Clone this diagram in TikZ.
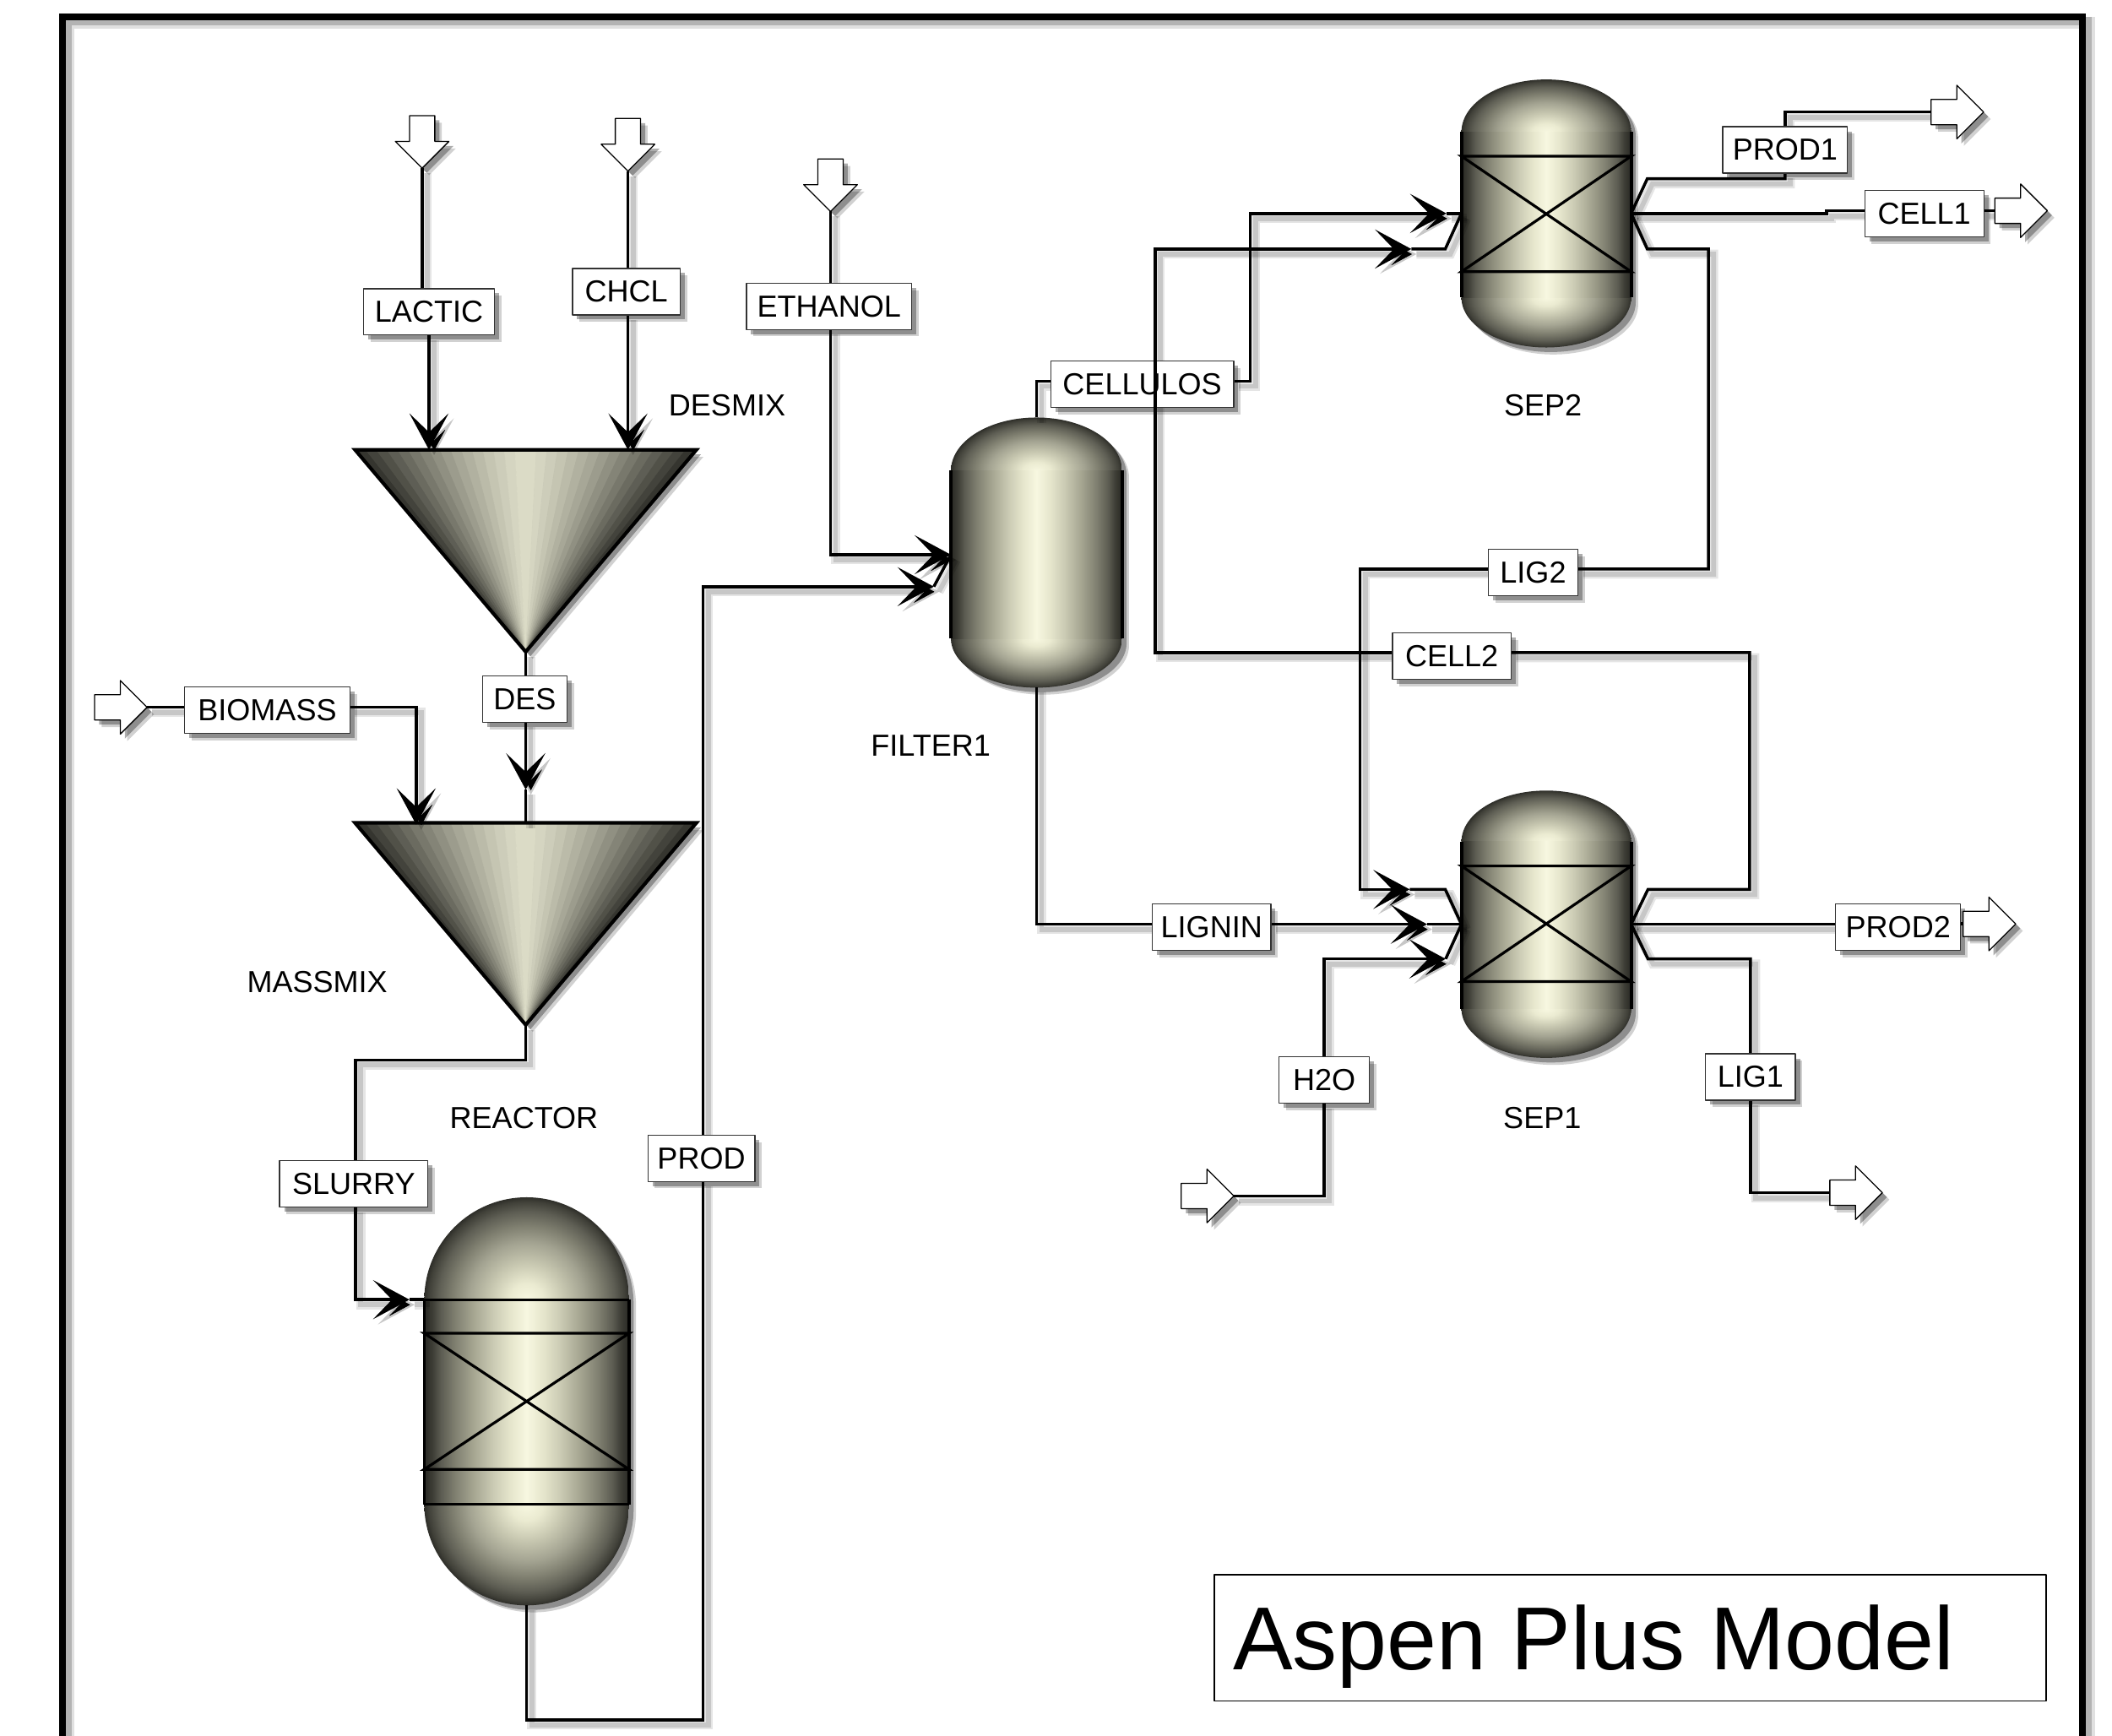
\documentclass[tikz,border=0pt]{standalone}
\usepackage{fontspec}
\setmainfont{Liberation Sans}
\usetikzlibrary{arrows.meta,shapes.arrows}
\pgfdeclarelayer{background}
\pgfsetlayers{background,main}
\definecolor{mixlight}{HTML}{DDDDC8}
\definecolor{mixdark}{HTML}{2E2E29}
\pgfdeclarehorizontalshading{vesselbody}{100bp}{
	rgb(0bp)=(.16,.16,.14); rgb(25bp)=(.16,.16,.14); rgb(27bp)=(.24,.24,.21); rgb(29bp)=(.36,.36,.32); rgb(32.5bp)=(.50,.50,.44);
	rgb(37bp)=(.65,.65,.57); rgb(42bp)=(.80,.80,.71); rgb(46bp)=(.90,.90,.80); rgb(50bp)=(.97,.97,.88);
	rgb(54bp)=(.90,.90,.80); rgb(58bp)=(.80,.80,.71); rgb(63bp)=(.65,.65,.57); rgb(67.5bp)=(.50,.50,.44);
	rgb(71bp)=(.36,.36,.32); rgb(73bp)=(.24,.24,.21); rgb(75bp)=(.16,.16,.14); rgb(100bp)=(.16,.16,.14)}
\pgfdeclareradialshading{vesselhead}{\pgfpoint{0bp}{0bp}}{
	rgb(0bp)=(.97,.97,.88); rgb(4bp)=(.92,.92,.82); rgb(9bp)=(.78,.78,.69); rgb(14bp)=(.64,.64,.57);
	rgb(18bp)=(.50,.50,.44); rgb(21.5bp)=(.37,.37,.33); rgb(24bp)=(.25,.25,.22); rgb(25bp)=(.18,.18,.16); rgb(50bp)=(.18,.18,.16)}
\begin{document}
\begin{tikzpicture}[x=0.5pt,y=-0.5pt,font=\fontsize{11.3}{13}\selectfont,line join=round,line cap=round,>={Stealth[length=13.5pt,width=14.5pt,inset=7pt]},
	softfill/.style={preaction={fill=black,fill opacity=.18,transform canvas={shift={(2.6pt,-2.6pt)}}},preaction={fill=black,fill opacity=.32,transform canvas={shift={(1.7pt,-1.7pt)}}}},
	softline/.style={preaction={draw=black,draw opacity=.1,line width=3.4pt,transform canvas={shift={(1.9pt,-1.9pt)}}},preaction={draw=black,draw opacity=.13,line width=1.8pt,transform canvas={shift={(1.9pt,-1.9pt)}}}},
	stream/.style={softline,line width=1.1pt},
	band/.style={line width=1pt},
	wall/.style={line width=1.2pt},
	unitspace/.style={inner sep=0,outer sep=0},
	unitname/.style={inner sep=0,outer sep=0},
	tag/.style={softfill,draw=black!80,line width=.4pt,fill=white,inner sep=0,outer sep=0,minimum height=17.2pt},
	port/.style={softfill,single arrow,draw=black,line width=.4pt,fill=white,inner xsep=0,inner ysep=4.5pt,outer sep=0,anchor=tail,minimum height=19.5pt,single arrow head extend=5.25pt},
	portdown/.style={port,inner xsep=4.5pt,inner ysep=0,shape border rotate=270}]
	\useasboundingbox (0,0) rectangle (1568,1289);
	\def\vessel#1#2#3#4#5#6#7{% name, centre, top, wall top, wall bottom, bottom, half width
		\node[unitspace,minimum width={#7*1pt},minimum height={(#6-#3)*.5pt}] (#1) at (#2,{(#3+#6)/2}) {};
		\path[softfill] ({#2-#7},#4) arc[start angle=180,end angle=360,x radius=#7,y radius={#4-#3}] -- ({#2+#7},#5) arc[start angle=0,end angle=180,x radius=#7,y radius={#6-#5}] -- cycle;
		\begin{scope}
			\clip ({#2-#7},#3) rectangle ({#2+#7},#4);
			\shade[shading=vesselhead] (#2,#4) ellipse [x radius=#7,y radius={#4-#3}];
		\end{scope}
		\begin{scope}
			\clip ({#2-#7},#5) rectangle ({#2+#7},#6);
			\shade[shading=vesselhead] (#2,#5) ellipse [x radius=#7,y radius={#6-#5}];
		\end{scope}
		\shade[shading=vesselbody] ({#2-#7},#4) rectangle ({#2+#7},#5);
		\draw[wall] ({#2-#7},#4) -- ({#2-#7},#5);
		\draw[wall] ({#2+#7},#4) -- ({#2+#7},#5);
	}
	\def\mixer#1#2#3#4#5{% name, centre, top, apex, half width
		\node[unitspace,minimum width={#5*1pt},minimum height={(#4-#3)*.5pt}] (#1) at (#2,{(#3+#4)/2}) {};
		\path[softfill] ({#2-#5},#3) -- ({#2+#5},#3) -- (#2,#4) -- cycle;
		\foreach \i in {0,...,31}{
			\pgfmathsetmacro\mixval{100*(1-abs((\i+.5)/16-1)^1.3)}
			\fill[mixlight!\mixval!mixdark,draw=mixlight!\mixval!mixdark,line width=.2pt] ({#2+#5*(\i/16-1)},#3) -- ({#2+#5*((\i+1)/16-1)},#3) -- (#2,#4) -- cycle;
		}
		\draw[line width=1.3pt] ({#2-#5},#3) -- ({#2+#5},#3) -- (#2,#4) -- cycle;
	}
	\def\packing#1#2#3{\draw[band] (#1.west |- 0,#2) -- (#1.east |- 0,#2) -- (#1.west |- 0,#3) -- (#1.east |- 0,#3) -- cycle;}

	\node[draw,line width=.6pt,inner sep=0,minimum width=308.6pt,minimum height=46.75pt] (titlebox) at (1210.2,1216.2) {};
	\node[anchor=base west,inner sep=0,font=\fontsize{33.2}{38}\selectfont] (titletext) at (915,1240) {Aspen Plus Model};

	\node[tag,minimum width=48.5pt] (lactic) at (318.5,231.6) {LACTIC};
	\node[tag,minimum width=40pt] (chcl) at (465,216.6) {CHCL};
	\node[tag,minimum width=61.25pt] (ethanol) at (615.5,227.4) {ETHANOL};
	\node[tag,minimum width=31.25pt] (des) at (389.6,519) {DES};
	\node[tag,minimum width=61.35pt] (biomass) at (198.4,527.3) {BIOMASS};
	\node[tag,minimum width=55pt] (slurry) at (262.6,879) {SLURRY};
	\node[tag,minimum width=39.75pt] (prod) at (520.7,860) {PROD};
	\node[tag,minimum width=67.9pt] (cellulos) at (848,285.2) {CELLULOS};
	\node[tag,minimum width=46.35pt] (prod1) at (1325.3,111.3) {PROD1};
	\node[tag,minimum width=44.2pt] (cell1) at (1428.6,158.7) {CELL1};
	\node[tag,minimum width=33.2pt] (lig2) at (1138.2,425) {LIG2};
	\node[tag,minimum width=44pt] (cell2) at (1077.8,487) {CELL2};
	\node[tag,minimum width=44pt] (lignin) at (899.5,688.5) {LIGNIN};
	\node[tag,minimum width=33.4pt] (h2o) at (983.1,802) {H2O};
	\node[tag,minimum width=33.35pt] (lig1) at (1299.6,799.7) {LIG1};
	\node[tag,minimum width=46.35pt] (prod2) at (1409.2,688.3) {PROD2};

	\node[unitname] (desmixname) at (539.8,301) {DESMIX};
	\node[unitname] (massmixname) at (235.5,729) {MASSMIX};
	\node[unitname] (reactorname) at (389,830) {REACTOR};
	\node[unitname] (filtername) at (691,553.5) {FILTER1};
	\node[unitname] (sep2name) at (1145.5,300.8) {SEP2};
	\node[unitname] (sep1name) at (1145,830) {SEP1};

	\node[portdown] (lacticin) at (313.4,85.9) {};
	\node[portdown] (chclin) at (466.2,88) {};
	\node[portdown] (ethanolin) at (616.6,118) {};
	\node[port] (biomassin) at (70.2,525.2) {};
	\node[port] (h2oin) at (877,888) {};
	\node[port] (prod1out) at (1433.7,83.2) {};
	\node[port] (cell1out) at (1481,156.5) {};
	\node[port] (prod2out) at (1457.5,686) {};
	\node[port] (lig1out) at (1358.5,885.6) {};

	\coordinate (filterport) at (706,411.9);
	\coordinate (prodtip) at (693.3,435.6);
	\coordinate (prodcorner) at (522,1277);
	\coordinate (destip) at (390.3,586.3);
	\coordinate (biomassdrop) at (309,612.3);
	\coordinate (slurrycorner) at (264,787);
	\coordinate (slurrytip) at (304,965);
	\coordinate (cellulosline) at (928.3,283);
	\coordinate (cellcorner) at (857.6,184.9);
	\coordinate (cellline) at (1299,484.6);
	\coordinate (ligline) at (1009.8,422.5);
	\coordinate (ligcorner) at (1268.4,184.9);
	\coordinate (sep2tipa) at (1073.9,158.5);
	\coordinate (sep2tipb) at (1047.8,184.9);
	\coordinate (sep2kinkb) at (1073,184.9);
	\coordinate (sep2top) at (1223,132.7);
	\coordinate (sep2low) at (1223,184.9);
	\coordinate (cellstep) at (1356,158.5);
	\coordinate (sep1tipa) at (1046.6,660.4);
	\coordinate (sep1kinka) at (1073,660.4);
	\coordinate (sep1tipb) at (1059.5,686.25);
	\coordinate (sep1tipc) at (1073.3,712);
	\coordinate (sep1top) at (1223.5,660.4);
	\coordinate (sep1low) at (1223.5,712);

	\begin{pgfonlayer}{background}
		\draw[line width=2.5pt,line join=miter,line cap=butt,preaction={draw=black,draw opacity=.12,line width=4.6pt,transform canvas={shift={(2.2pt,-2.2pt)}}},preaction={draw=black,draw opacity=.2,line width=3.2pt,transform canvas={shift={(1.7pt,-1.7pt)}}}] (46.4,1300) -- (46.4,12.5) -- (1546.3,12.5) -- (1546.3,1300);

		\mixer{desmix}{390.3}{334}{484}{126.7}
		\mixer{massmix}{390.3}{611}{761}{126.7}
		\vessel{reactor}{391}{889}{965}{1117}{1192}{76}
		\vessel{filter}{769.5}{310}{349.5}{474}{510.6}{63.5}
		\vessel{sep2}{1148}{59}{98}{221}{258}{63}
		\vessel{sep1}{1148}{587}{625}{749}{785.5}{63}
		\packing{reactor}{990}{1091}
		\packing{sep2}{116}{201.7}
		\packing{sep1}{643}{728.8}
		\draw[band] (reactor.west |- 0,965) -- (reactor.east |- 0,965);
		\draw[band] (reactor.west |- 0,1117) -- (reactor.east |- 0,1117);

		\draw[stream] (lacticin.tip) -- (lacticin.tip |- lactic.north);
		\draw[stream,->] (lactic.south) -- (lactic.south |- desmix.north);
		\draw[stream] (chclin.tip) -- (chclin.tip |- chcl.north);
		\draw[stream,->] (chclin.tip |- chcl.south) -- (chclin.tip |- desmix.north);
		\draw[stream] (ethanolin.tip) -- (ethanolin.tip |- ethanol.north);
		\draw[stream,->] (ethanolin.tip |- ethanol.south) |- (filterport);
		\draw[stream] (desmix.south) -- (desmix.south |- des.north);
		\draw[stream,->] (desmix.south |- des.south) -- (destip);
		\draw[stream] (destip) -- (massmix.north);
		\draw[stream] (biomassin.tip) -- (biomass.west |- biomassin.tip);
		\draw[stream,->] (biomass.east |- biomassin.tip) -| (biomassdrop);
		\draw[stream] (massmix.south) |- (slurrycorner) -- (slurrycorner |- slurry.north);
		\draw[stream,->] (slurrycorner |- slurry.south) |- (slurrytip);
		\draw[stream] (slurrytip) -- (reactor.west |- slurrytip);
		\draw[stream] (reactor.south) |- (prodcorner) -- (prodcorner |- prod.south);
		\draw[stream,->] (prodcorner |- prod.north) |- (prodtip);
		\draw[stream] (prodtip) -- (filterport);
		\draw[stream] (filter.north) |- (cellulos.west |- cellulosline);
		\draw[stream,->] (cellulos.east |- cellulosline) -- (cellulosline) |- (sep2tipa);
		\draw[stream] (sep2tipa) -- (sep2.west);
		\draw[stream,->] (cell2.west |- cellline) -| (cellcorner) -- (sep2tipb);
		\draw[stream] (sep2tipb) -- (sep2kinkb) -- (sep2.west);
		\draw[stream] (sep1.east) -- (sep1top) -| (cellline) -- (cell2.east |- cellline);
		\draw[stream] (sep2.east) -- (sep2low) -- (ligcorner) |- (lig2.east |- ligline);
		\draw[stream,->] (lig2.west |- ligline) -- (ligline) |- (sep1tipa);
		\draw[stream] (sep1tipa) -- (sep1kinka) -- (sep1.west);
		\draw[stream] (sep2.east) -- (sep2top) -| (prod1.south);
		\draw[stream] (prod1.north) |- (prod1out.tail);
		\draw[stream] (sep2.east) -- (cellstep) |- (cell1.west |- cell1out.tail);
		\draw[stream] (cell1.east |- cell1out.tail) -- (cell1out.tail);
		\draw[stream] (filter.south) |- (lignin.west |- sep1.west);
		\draw[stream,->] (lignin.east |- sep1.west) -- (sep1tipb);
		\draw[stream] (sep1tipb) -- (sep1.west);
		\draw[stream] (h2oin.tip) -| (h2o.south);
		\draw[stream,->] (h2o.north) |- (sep1tipc);
		\draw[stream] (sep1tipc) -- (sep1.west);
		\draw[stream] (sep1.east) -- (sep1low) -| (lig1.north);
		\draw[stream] (lig1.south) |- (lig1out.tail);
		\draw[stream] (sep1.east) -- (prod2.west |- sep1.east);
		\draw[stream] (prod2.east |- prod2out.tail) -- (prod2out.tail);
	\end{pgfonlayer}
	\draw[line width=1.1pt] (cellcorner |- cellulos.north) -- (cellcorner |- cellulos.south);
\end{tikzpicture}
\end{document}
